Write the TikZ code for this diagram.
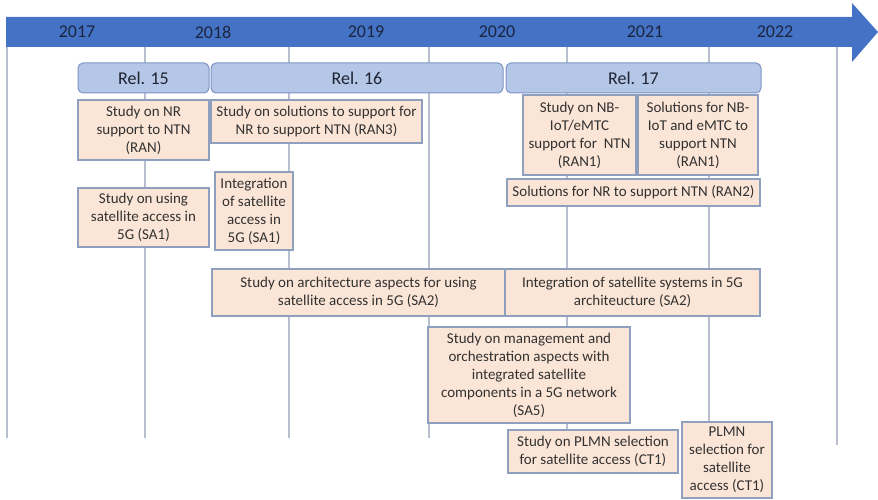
\documentclass[tikz,border=0pt]{standalone}
\usepackage{fontspec}
\setmainfont{Carlito}
\definecolor{bandblue}{RGB}{68,114,196}
\definecolor{relfill}{RGB}{180,199,231}
\definecolor{reldraw}{RGB}{125,148,196}
\definecolor{ofill}{RGB}{251,229,214}
\definecolor{odraw}{RGB}{143,160,190}
\definecolor{gridc}{RGB}{184,192,208}
\definecolor{yeartxt}{RGB}{28,38,66}
\definecolor{reltxt}{RGB}{30,34,48}
\definecolor{otxt}{RGB}{50,50,50}
\tikzset{
  obox/.style={draw=odraw, fill=ofill, line width=1.3pt, rectangle, inner sep=0pt,
    align=center, text=otxt, font=\fontsize{15}{18}\selectfont},
  relbox/.style={draw=reldraw, fill=relfill, line width=1pt, rounded corners=5pt,
    inner sep=0pt, minimum height=30pt, text=reltxt, font=\fontsize{18}{21}\selectfont},
  yearlbl/.style={text=yeartxt, font=\fontsize{18}{21}\selectfont, inner sep=0pt},
  gridline/.style={draw=gridc, line width=1.4pt}
}
\begin{document}
\begin{tikzpicture}[x=1pt,y=-1pt]
\useasboundingbox (0,0) rectangle (878,500);
% grid lines
\foreach \gx/\gy in {7/438, 145/438, 289/438, 429/438, 567/438, 709/438, 837/445}
  \draw[gridline] (\gx,47) -- (\gx,\gy);
% timeline arrow
\fill[bandblue] (6,17) -- (852,17) -- (852,3) -- (878,32) -- (852,62) -- (852,47) -- (6,47) -- cycle;
\node[yearlbl] (y17) at (77,32) {2017};
\node[yearlbl] (y18) at (213,32) {2018};
\node[yearlbl] (y19) at (366,32) {2019};
\node[yearlbl] (y20) at (497,32) {2020};
\node[yearlbl] (y21) at (645,32) {2021};
\node[yearlbl] (y22) at (775,32) {2022};
% releases
\node[relbox, minimum width=131pt] (r15) at (143.5,78) {Rel. 15};
\node[relbox, minimum width=292pt] (r16) at (357,78) {Rel. 16};
\node[relbox, minimum width=255pt] (r17) at (633.5,78) {Rel. 17};
% work items
\node[obox, minimum width=131pt, minimum height=60pt] (a) at (143.5,130) {Study on NR\\support to NTN\\(RAN)};
\node[obox, minimum width=211pt, minimum height=43pt] (b) at (316.5,121.5) {Study on solutions to support for\\NR to support NTN (RAN3)};
\node[obox, minimum width=131pt, minimum height=59pt] (c) at (143.5,217.5) {Study on using\\satellite access in\\5G (SA1)};
\node[obox, minimum width=78pt, minimum height=78pt] (d) at (254,211) {Integration\\of satellite\\access in\\5G (SA1)};
\node[obox, minimum width=113pt, minimum height=80pt] (e) at (579.5,135) {Study on NB-\\IoT/eMTC\\support for~~NTN\\(RAN1)};
\node[obox, minimum width=120pt, minimum height=80pt] (f) at (698,135) {Solutions for NB-\\IoT and eMTC to\\support NTN\\(RAN1)};
\node[obox, minimum width=253pt, minimum height=27pt] (g) at (633.5,192.5) {Solutions for NR to support NTN (RAN2)};
\node[obox, minimum width=293pt, minimum height=47pt] (h) at (358.5,292.5) {Study on architecture aspects for using\\satellite access in 5G (SA2)};
\node[obox, minimum width=255pt, minimum height=47pt] (i) at (632.5,292.5) {Integration of satellite systems in 5G\\architeucture (SA2)};
\node[obox, minimum width=202pt, minimum height=96pt] (j) at (529,375) {Study on management and\\orchestration aspects with\\integrated satellite\\components in a 5G network\\(SA5)};
\node[obox, minimum width=170pt, minimum height=43pt] (k) at (593,451.5) {Study on PLMN selection\\for satellite access (CT1)};
\node[obox, minimum width=90pt, minimum height=76pt] (l) at (727,460) {PLMN\\selection for\\satellite\\access (CT1)};
\end{tikzpicture}
\end{document}
